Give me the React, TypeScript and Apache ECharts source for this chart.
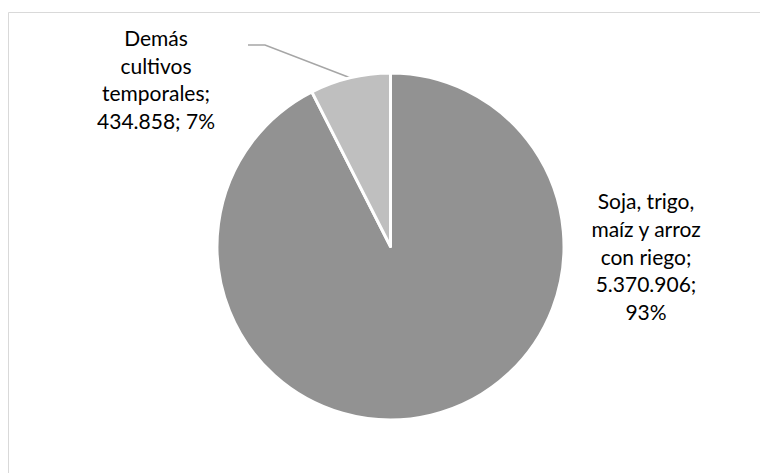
import React, { useEffect, useRef } from "react";
import * as echarts from "echarts";

const categories = ["Soja, trigo, maíz y arroz con riego", "Demás cultivos temporales"];
const values = [5370906, 434858];
const colors = ["#929292", "#bfbfbf"];

// label anchor positions (layout only)
const labelPos: [number, number][] = [
  [646, 256],
  [156, 79],
];

function fmtNum(v: number): string {
  return String(v).replace(/\B(?=(\d{3})+(?!\d))/g, ".");
}

function wrap(text: string, maxChars: number): string {
  const words = text.split(" ");
  const lines: string[] = [];
  let cur = "";
  for (const w of words) {
    if (!cur) cur = w;
    else if ((cur + " " + w).length <= maxChars) cur += " " + w;
    else {
      lines.push(cur);
      cur = w;
    }
  }
  if (cur) lines.push(cur);
  return lines.join("\n");
}

export default function App() {
  const ref = useRef<HTMLDivElement>(null);
  useEffect(() => {
    if (!ref.current) return;
    const chart = echarts.init(ref.current, undefined, { renderer: "svg" });
    const data = categories.map((name, i) => ({
      name,
      value: values[i],
      itemStyle: { color: colors[i] },
      labelLine: { show: i === 1 },
    }));
    chart.setOption({
      animation: false,
      backgroundColor: "#ffffff",
      graphic: [
        {
          type: "rect",
          shape: { x: 8.5, y: 12.5, width: 800, height: 500 },
          style: { fill: "none", stroke: "#d9d9d9", lineWidth: 1 },
          silent: true,
        },
      ],
      series: [
        {
          type: "pie",
          center: [390.5, 246.5],
          radius: 173.5,
          startAngle: 90,
          clockwise: true,
          data,
          itemStyle: { borderColor: "#ffffff", borderWidth: 3 },
          label: {
            show: true,
            position: "outside",
            color: "#000000",
            fontFamily: "Lato",
            fontSize: 21,
            lineHeight: 27.7,
            align: "center",
            formatter: (p: any) =>
              wrap(`${p.name}; ${fmtNum(p.value)}; ${Math.round(p.percent)}%`, 12),
          },
          labelLine: {
            show: true,
            lineStyle: { color: "#a6a6a6", width: 1.5 },
          },
          labelLayout: (params: any) => {
            const i = params.dataIndex;
            const [x, y] = labelPos[i];
            const res: any = { x, y, align: "center", verticalAlign: "middle" };
            if (i === 1 && params.labelLinePoints) {
              const start = params.labelLinePoints[0];
              res.labelLinePoints = [start, [265, 45], [248, 45]];
            }
            return res;
          },
        },
      ],
    });
    return () => chart.dispose();
  }, []);
  return (
    <div
      ref={ref}
      style={{ position: "fixed", left: 0, top: 0, width: 760, height: 473 }}
    />
  );
}
